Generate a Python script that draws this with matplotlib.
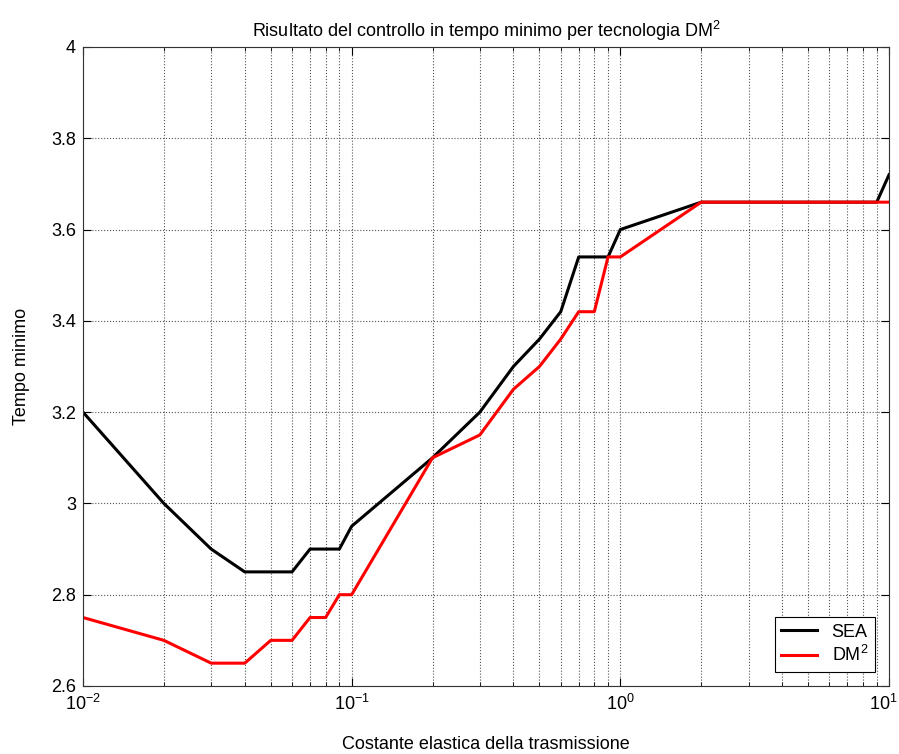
import matplotlib
matplotlib.use('Agg')
import matplotlib.pyplot as plt
from matplotlib.ticker import FormatStrFormatter, LogLocator, NullFormatter
from matplotlib.transforms import ScaledTranslation

plt.rcParams['font.family'] = ['Liberation Sans', 'DejaVu Sans']
plt.rcParams['mathtext.fontset'] = 'custom'
plt.rcParams['mathtext.rm'] = 'Liberation Sans'
plt.rcParams['mathtext.it'] = 'Liberation Sans'

# Costante elastica (scala logaritmica)
k = [0.01, 0.02, 0.03, 0.04, 0.05, 0.06, 0.07, 0.08, 0.09,
     0.1, 0.2, 0.3, 0.4, 0.5, 0.6, 0.7, 0.8, 0.9,
     1, 2, 3, 4, 5, 6, 7, 8, 9, 10]

# Tempo minimo per le due tecnologie
t_sea = [3.20, 3.00, 2.90, 2.85, 2.85, 2.85, 2.90, 2.90, 2.90,
         2.95, 3.10, 3.20, 3.30, 3.36, 3.42, 3.54, 3.54, 3.54,
         3.60, 3.66, 3.66, 3.66, 3.66, 3.66, 3.66, 3.66, 3.66, 3.72]
t_dm2 = [2.75, 2.70, 2.65, 2.65, 2.70, 2.70, 2.75, 2.75, 2.80,
         2.80, 3.10, 3.15, 3.25, 3.30, 3.36, 3.42, 3.42, 3.54,
         3.54, 3.66, 3.66, 3.66, 3.66, 3.66, 3.66, 3.66, 3.66, 3.66]

y_ticks = [2.6, 2.8, 3.0, 3.2, 3.4, 3.6, 3.8, 4.0]

fig = plt.figure(figsize=(8.99, 7.54), dpi=100)
ax = fig.add_axes([0.0923, 0.0902, 0.8966, 0.8475])

ax.plot(k, t_sea, color='black', linewidth=2.2, label='SEA')
ax.plot(k, t_dm2, color='red', linewidth=2.2, label='DM$^2$')

ax.set_xscale('log')
ax.set_xlim(0.01, 10)
ax.set_ylim(2.6, 4.0)
ax.set_yticks(y_ticks)
ax.yaxis.set_major_formatter(FormatStrFormatter('%g'))
ax.xaxis.set_minor_locator(LogLocator(base=10, subs=range(2, 10)))
ax.xaxis.set_minor_formatter(NullFormatter())

ax.grid(True, which='both', axis='x', linestyle=':', color='#555555', linewidth=0.8)
ax.grid(True, which='major', axis='y', linestyle=':', color='#555555', linewidth=0.8)

for s in ax.spines.values():
    s.set_color('#333333')

ax.tick_params(which='both', direction='in', top=True, right=True, labelsize=13)
ax.tick_params(which='major', length=6)
ax.tick_params(which='minor', length=3)
ax.tick_params(axis='x', pad=6)
ax.tick_params(axis='y', pad=5)

ax.set_title('Risultato del controllo in tempo minimo per tecnologia DM$^2$', fontsize=13, pad=7)
ax.set_xlabel('Costante elastica della trasmissione', fontsize=13)
ax.set_ylabel('Tempo minimo', fontsize=13)
ax.xaxis.set_label_coords(0.5, -0.079)
ax.yaxis.set_label_coords(-0.066, 0.5)

# l'ultima etichetta (10^1) spostata un poco a sinistra per restare nel bordo
fig.canvas.draw()
last = ax.get_xticklabels()[-1]
for lbl in ax.get_xticklabels():
    if lbl.get_position()[0] == 10:
        lbl.set_transform(lbl.get_transform() + ScaledTranslation(-4 / 72, 0, fig.dpi_scale_trans))

leg = ax.legend(loc='lower right', fontsize=13, fancybox=False, framealpha=1,
                edgecolor='black', borderaxespad=0.8, handlelength=2.0,
                borderpad=0.35, labelspacing=0.25)
leg.get_frame().set_linewidth(0.8)

fig.savefig('out.png', dpi=100)
